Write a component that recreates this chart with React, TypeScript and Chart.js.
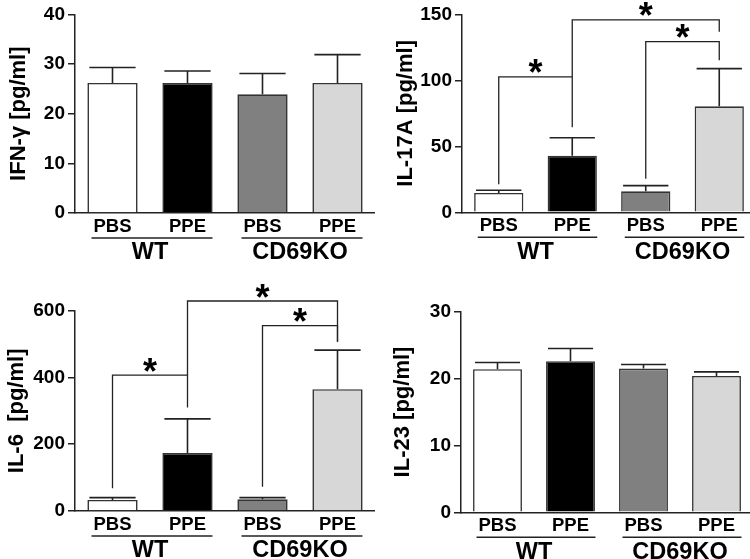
import React, { useEffect, useRef } from "react";
import { Chart, registerables } from "chart.js";

Chart.register(...registerables);

const FONT = "'Liberation Sans', Arial, Helvetica, sans-serif";

// ---- data ----
const categories = ["PBS", "PPE", "PBS", "PPE"];
const groupLabels = ["WT", "CD69KO"];
const groupMembers = [
  [0, 1],
  [2, 3],
];
const barColors = ["#ffffff", "#000000", "#808080", "#d7d7d7"];

const ifngMean = [26.2, 26.2, 23.9, 26.2];
const ifngSem = [3.1, 2.4, 4.2, 5.7];
const il17aMean = [14.7, 42.9, 15.9, 80.3];
const il17aSem = [2.0, 13.6, 4.3, 28.6];
const il6Mean = [33, 174, 35, 365];
const il6Sem = [7, 102, 5, 117];
const il23Mean = [21.4, 22.6, 21.5, 20.4];
const il23Sem = [1.0, 1.9, 0.6, 0.6];

const ifngAxis = { max: 40, step: 10 };
const il17aAxis = { max: 150, step: 50 };
const il6Axis = { max: 600, step: 200 };
const il23Axis = { max: 30, step: 10 };

// significance brackets: categories joined, bracket level, leg end values
type Bracket = { from: number; to: number; level: number; fromEnd: number; toEnd: number };
const il17aBrackets: Bracket[] = [
  { from: 0, to: 1, level: 102.7, fromEnd: 21.2, toEnd: 64.5 },
  { from: 1, to: 3, level: 145.8, fromEnd: 102.7, toEnd: 136.9 },
  { from: 2, to: 3, level: 129.4, fromEnd: 25.4, toEnd: 115.2 },
];
const il6Brackets: Bracket[] = [
  { from: 0, to: 1, level: 407, fromEnd: 68, toEnd: 310 },
  { from: 1, to: 3, level: 629, fromEnd: 407, toEnd: 507 },
  { from: 2, to: 3, level: 555, fromEnd: 73, toEnd: 507 },
];

type Panel = {
  title: string;
  mean: number[];
  sem: number[];
  axis: { max: number; step: number };
  brackets: Bracket[];
  left: number;
  top: number;
  width: number;
  height: number;
  axisW: number;
  padTop: number;
  xAxisH: number;
  titlePad: number;
};

const panels: Panel[] = [
  { title: "IFN-γ [pg/ml]", mean: ifngMean, sem: ifngSem, axis: ifngAxis, brackets: [],
    left: 0, top: 0, width: 375, height: 280, axisW: 75, padTop: 12, xAxisH: 67, titlePad: 5.8 },
  { title: "IL-17A [pg/ml]", mean: il17aMean, sem: il17aSem, axis: il17aAxis, brackets: il17aBrackets,
    left: 375, top: 0, width: 381, height: 280, axisW: 87, padTop: 11.7, xAxisH: 67.7, titlePad: 17.8 },
  { title: "IL-6  [pg/ml]", mean: il6Mean, sem: il6Sem, axis: il6Axis, brackets: il6Brackets,
    left: 0, top: 280, width: 375, height: 279, axisW: 75, padTop: 30.7, xAxisH: 48, titlePad: 3.5 },
  { title: "IL-23 [pg/ml]", mean: il23Mean, sem: il23Sem, axis: il23Axis, brackets: [],
    left: 375, top: 280, width: 378, height: 279, axisW: 86, padTop: 31.7, xAxisH: 46.7, titlePad: 14.8 },
];

const LINE = "#222222";

function makeAnnotPlugin(p: Panel) {
  return {
    id: "annot",
    afterDatasetsDraw(chart: any) {
      const { ctx, chartArea } = chart;
      const xs = chart.scales.x;
      const ys = chart.scales.y;
      const meta = chart.getDatasetMeta(0);
      ctx.save();
      ctx.strokeStyle = LINE;
      ctx.lineWidth = 1.6;
      ctx.lineCap = "butt";
      // error bars (upper)
      p.mean.forEach((m, i) => {
        const bar = meta.data[i];
        const cx = bar.x;
        const w = bar.width;
        const yTop = ys.getPixelForValue(m);
        const yErr = ys.getPixelForValue(m + p.sem[i]);
        ctx.beginPath();
        ctx.moveTo(cx, yTop);
        ctx.lineTo(cx, yErr);
        ctx.moveTo(cx - w * 0.46, yErr);
        ctx.lineTo(cx + w * 0.46, yErr);
        ctx.stroke();
      });
      // brackets
      ctx.lineWidth = 1.3;
      p.brackets.forEach((b) => {
        const x1 = xs.getPixelForValue(b.from);
        const x2 = xs.getPixelForValue(b.to);
        const yl = ys.getPixelForValue(b.level);
        const y1 = ys.getPixelForValue(b.fromEnd);
        const y2 = ys.getPixelForValue(b.toEnd);
        ctx.beginPath();
        ctx.moveTo(x1, y1);
        ctx.lineTo(x1, yl);
        ctx.lineTo(x2, yl);
        ctx.lineTo(x2, y2);
        ctx.stroke();
        ctx.fillStyle = "#000";
        ctx.font = `bold 36px ${FONT}`;
        ctx.textAlign = "center";
        ctx.textBaseline = "alphabetic";
        const mt = ctx.measureText("*");
        const cy = yl - 10.5;
        const base = cy + (mt.actualBoundingBoxAscent - mt.actualBoundingBoxDescent) / 2;
        ctx.fillText("*", (x1 + x2) / 2, base);
      });
      // category labels, group underlines and group labels
      const bottom = chartArea.bottom;
      ctx.fillStyle = "#000";
      ctx.textAlign = "center";
      ctx.textBaseline = "middle";
      ctx.font = `bold 18.5px ${FONT}`;
      categories.forEach((c, i) => {
        ctx.fillText(c, xs.getPixelForValue(i), bottom + 14);
      });
      ctx.lineWidth = 1.5;
      groupMembers.forEach((g, gi) => {
        const a = xs.getPixelForValue(g[0]);
        const b = xs.getPixelForValue(g[g.length - 1]);
        ctx.beginPath();
        ctx.moveTo(a - 21, bottom + 25);
        ctx.lineTo(b + 25, bottom + 25);
        ctx.stroke();
        ctx.font = `bold 23.5px ${FONT}`;
        ctx.fillText(groupLabels[gi], (a + b) / 2, bottom + 40);
      });
      ctx.restore();
    },
  };
}

function PanelChart({ p }: { p: Panel }) {
  const ref = useRef<HTMLCanvasElement | null>(null);
  useEffect(() => {
    if (!ref.current) return;
    const chart = new Chart(ref.current, {
      type: "bar",
      data: {
        labels: categories,
        datasets: [
          {
            data: p.mean,
            backgroundColor: barColors,
            borderColor: "#333333",
            borderWidth: 1.6,
            barPercentage: 0.67,
            categoryPercentage: 1,
          },
        ],
      },
      options: {
        animation: false,
        responsive: false,
        devicePixelRatio: 1,
        layout: { padding: { top: p.padTop, right: 0, left: 0, bottom: 0 } },
        plugins: { legend: { display: false }, tooltip: { enabled: false } },
        scales: {
          x: {
            grid: { display: false },
            ticks: { display: false },
            border: { display: true, color: LINE, width: 1.5 },
            afterFit: (s: any) => {
              s.height = p.xAxisH;
            },
          },
          y: {
            min: 0,
            max: p.axis.max,
            ticks: {
              stepSize: p.axis.step,
              color: "#000",
              padding: 3,
              font: { family: FONT, size: 19, weight: "bold" },
            },
            grid: {
              drawOnChartArea: false,
              drawTicks: true,
              tickLength: 7,
              color: LINE,
              lineWidth: 1.5,
            },
            border: { display: true, color: LINE, width: 1.5 },
            title: {
              display: true,
              text: p.title,
              color: "#000",
              padding: { top: p.titlePad, bottom: 0 },
              font: { family: FONT, size: 22, weight: "bold" },
            },
            afterFit: (s: any) => {
              s.width = p.axisW;
            },
          },
        },
      },
      plugins: [makeAnnotPlugin(p)],
    } as any);
    return () => chart.destroy();
  }, [p]);
  return (
    <canvas
      ref={ref}
      width={p.width}
      height={p.height}
      style={{
        position: "absolute",
        left: p.left,
        top: p.top,
        width: p.width,
        height: p.height,
        display: "block",
      }}
    />
  );
}

export default function App() {
  return (
    <div
      style={{
        position: "absolute",
        left: 0,
        top: 0,
        width: 750,
        height: 559,
        overflow: "hidden",
        background: "#ffffff",
      }}
    >
      {panels.map((p, i) => (
        <PanelChart key={i} p={p} />
      ))}
    </div>
  );
}
